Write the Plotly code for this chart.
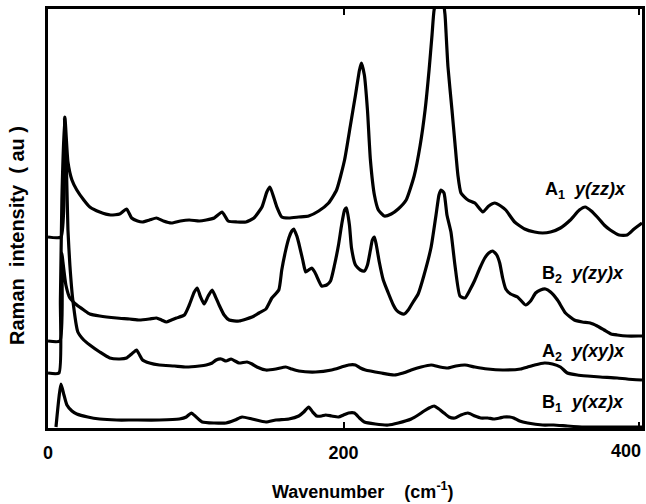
import plotly.graph_objects as go

# Polarised Raman spectra, wavenumber (cm-1) vs intensity (au), vertically offset
A1_yzzx = [(0, 191), (8.8, 191), (11.4, 311), (13.5, 266), (16.2, 248), (19.5, 238), (24.2, 228),
           (28.3, 221), (35, 216), (42.4, 213), (48.5, 214), (53.2, 219), (56.6, 210), (60.6, 207),
           (64, 206), (68.7, 208), (73.4, 210), (78.1, 207), (83.5, 205), (89.6, 207), (95.6, 208),
           (102.4, 207), (107.1, 208), (112.5, 210), (117.8, 216), (121.9, 207), (127.9, 206),
           (134, 206), (139.4, 210), (144.8, 221), (148.1, 236), (150.2, 241), (152.9, 230),
           (154.9, 221), (158.2, 211), (163, 210), (169.7, 211), (176.4, 212), (183.2, 217),
           (189.9, 225), (195.3, 238), (200.7, 268), (204.7, 303), (208.1, 333), (210.8, 358),
           (212.1, 365), (214.1, 353), (216.2, 318), (218.2, 268), (220.9, 233), (223.6, 218),
           (227.6, 212), (232.3, 214), (237, 219), (242.4, 228), (247.8, 252), (251.9, 283),
           (255.2, 318), (257.9, 358), (259.9, 393), (261.3, 418), (264, 432), (266.7, 432),
           (268.7, 413), (269.4, 395), (270.7, 361), (273.4, 318), (275.4, 285), (277.4, 253),
           (279.5, 235), (284.2, 228), (288.9, 225), (294.3, 216), (298.3, 222), (302.4, 225),
           (306.4, 222), (309.8, 218), (315.8, 206), (322.6, 199), (329.3, 196), (334.7, 195),
           (340.1, 196), (346.8, 200), (353.5, 208), (359.6, 218), (363.6, 221), (367.7, 217),
           (371.7, 211), (376.4, 203), (380.5, 198), (386.5, 193), (391.9, 193), (396.6, 199),
           (399.3, 202), (402, 205)]

B2_yzyx = [(0, 87), (8.1, 87), (9.4, 175), (10.1, 166), (12.1, 143), (14.8, 130), (19.5, 123),
           (24.2, 118), (28.3, 114), (35, 112), (46.5, 110), (55.2, 109), (62, 108), (68.7, 109),
           (73.4, 110), (76.8, 108), (80.1, 106), (83.5, 108), (86.9, 110), (92.3, 113), (95.6, 123),
           (99, 136), (101, 140), (103, 132), (105.7, 124), (108.4, 132), (111.1, 138), (113.1, 132),
           (115.8, 123), (119.2, 113), (122.6, 108), (129.3, 107), (138.1, 111), (142.8, 115),
           (147.5, 119), (151.5, 130), (156.2, 138), (158.2, 158), (160.9, 178), (163, 190),
           (165, 197), (166.3, 199), (168.4, 192), (169.7, 185), (172.4, 168), (174.4, 156),
           (176.4, 158), (178.5, 160), (180.5, 156), (181.8, 152), (185.2, 142), (188.6, 143),
           (191.2, 147), (193.9, 163), (196.6, 183), (198.7, 203), (200.7, 218), (202, 220),
           (204, 203), (205.4, 180), (208.1, 163), (211.4, 158), (214.1, 157), (216.2, 163),
           (218.2, 178), (219.5, 188), (220.9, 191), (222.2, 183), (224.2, 166), (226.9, 148),
           (230.3, 135), (233.7, 123), (235.7, 118), (238.4, 115), (241.1, 114), (243.8, 118),
           (247.1, 126), (250.5, 134), (254.5, 153), (259.3, 181), (262.6, 213), (264.6, 233),
           (266, 238), (268, 235), (270, 213), (272.7, 196), (275.4, 163), (278.8, 132),
           (282.2, 130), (285.5, 138), (288.9, 148), (292.3, 160), (295.6, 170), (298.3, 175),
           (301, 177), (303.7, 173), (305.7, 165), (307.7, 150), (309.8, 139), (313.1, 134),
           (317.8, 131), (323.2, 123), (326.6, 127), (330, 135), (333.3, 138), (336.7, 139),
           (340.1, 136), (344.8, 128), (350.2, 115), (356.2, 108), (361.6, 106), (367, 105),
           (371.7, 102), (376.4, 98), (381.1, 94), (385.2, 93), (391.9, 92), (400.7, 92), (402, 92)]

A2_yxyx = [(0, 55), (7.4, 55), (8.4, 128), (9.4, 228), (11.1, 310), (12.5, 258), (13.5, 198),
           (14.8, 163), (16.8, 128), (20.2, 96), (24.2, 88), (28.3, 83), (35, 76), (41.8, 70),
           (48.5, 69), (53.2, 70), (56.6, 74), (59.9, 78), (62, 73), (64, 68), (68.7, 65),
           (75.4, 63), (85.5, 62), (93.6, 61), (102.4, 62), (107.1, 63), (111.1, 65), (113.8, 68),
           (117.2, 69), (120.5, 67), (123.9, 69), (126.6, 67), (129.3, 65), (134.7, 66),
           (138.1, 64), (141.4, 61), (147.5, 58), (154.2, 59), (160.9, 61), (165, 59), (169.7, 57),
           (181.1, 56), (191.9, 58), (198.7, 61), (203.4, 63), (208.1, 63), (211.4, 60),
           (214.8, 58), (225.6, 55), (234.3, 53), (240.4, 55), (245.8, 58), (252.5, 61),
           (259.3, 63), (265.3, 61), (270.7, 60), (276.1, 62), (282.2, 63), (288.9, 61),
           (297.6, 59), (307.7, 58), (319.9, 59), (324.6, 61), (329.3, 63), (336, 65), (341.4, 64),
           (346.8, 61), (351.5, 55), (358.2, 53), (365, 52), (373.7, 51), (385.2, 50), (391.9, 49),
           (402, 48)]

B1_yxzx = [(5.4, 1), (8.8, 44), (10.8, 33), (12.8, 23), (16.2, 17), (19.5, 14), (26.9, 11),
           (35, 9), (46.5, 8), (57.2, 8), (75.4, 8), (88.9, 9), (93.6, 11), (97, 15), (100.3, 11),
           (104.4, 6), (112.5, 5), (120.5, 5), (126.6, 8), (131.3, 11), (138.1, 9), (147.5, 6),
           (154.2, 8), (163, 9), (169.7, 12), (173.1, 16), (176.4, 21), (179.1, 16), (181.8, 12),
           (185.2, 12), (187.9, 13), (191.9, 12), (196.6, 11), (200, 13), (203.4, 15), (207.4, 15),
           (210.8, 10), (214.1, 6), (221.5, 4), (230.3, 3), (237, 5), (245.8, 9), (250.5, 13),
           (254.5, 17), (257.9, 20), (261.3, 22), (264.6, 19), (268, 15), (271.4, 11), (275.4, 10),
           (279.5, 13), (284.2, 15), (288.9, 12), (292.9, 10), (297.6, 10), (301.7, 9),
           (305.7, 10), (308.4, 11), (312.5, 11), (315.2, 10), (319.2, 7), (324.6, 5), (334.7, 3),
           (342.1, 3), (351.5, 2), (363, 1), (371.7, 1), (385.2, 1), (402, 1)]

spectra = [A1_yzzx, B2_yzyx, A2_yxyx, B1_yxzx]

# label text and its anchor (wavenumber, intensity)
label_text = ["A<sub>1</sub>\u00a0 <i>y(zz)x</i>",
              "B<sub>2</sub>\u00a0 <i>y(zy)x</i>",
              "A<sub>2</sub>\u00a0 <i>y(xy)x</i>",
              "B<sub>1</sub>\u00a0 <i>y(xz)x</i>"]
label_pos = [(335, 238), (333, 154), (333, 76), (333, 25)]

x_ticks = [0, 200, 400]
x_range = [0, 402]
y_range = [0, 419]

tick_font = dict(family="Liberation Sans", size=18, color="black", weight="bold")

fig = go.Figure()
for s in spectra:
    fig.add_trace(go.Scatter(
        x=[p[0] for p in s], y=[p[1] for p in s], mode="lines",
        line=dict(color="black", width=3.2, shape="spline", smoothing=0.5),
        showlegend=False, hoverinfo="skip"))

for txt, (lx, ly) in zip(label_text, label_pos):
    fig.add_annotation(x=lx, y=ly, xref="x", yref="y", text=txt, showarrow=False,
                       xanchor="left", yanchor="middle",
                       font=dict(family="Liberation Sans", size=18, color="black", weight="bold"))

fig.add_annotation(text="Raman\u00a0 intensity\u00a0 (\u00a0au\u00a0)", xref="paper", yref="paper",
                   x=-0.051, y=0.46, textangle=-90, showarrow=False,
                   xanchor="center", yanchor="middle",
                   font=dict(family="Liberation Sans", size=20, color="black", weight="bold"))
fig.add_annotation(text="Wavenumber\u00a0\u00a0\u00a0\u00a0(cm<sup>-1</sup>)", xref="paper", yref="paper",
                   x=0.53, y=-0.148, showarrow=False, xanchor="center", yanchor="middle",
                   font=dict(family="Liberation Sans", size=18, color="black", weight="bold"))
# last tick label sits against the right edge, so it is pulled inside the frame
fig.add_annotation(text=str(x_ticks[-1]), x=x_ticks[-1] - 9, xref="x", yref="paper", y=-0.055,
                   showarrow=False, xanchor="center", yanchor="middle", font=tick_font)

fig.update_xaxes(range=x_range, tickvals=x_ticks,
                 ticktext=[str(t) for t in x_ticks[:-1]] + [""],
                 ticks="inside", ticklen=6, tickwidth=2, tickcolor="black",
                 showline=True, linewidth=3, linecolor="black", mirror="allticks",
                 showgrid=False, zeroline=False, ticklabelstandoff=6, tickfont=tick_font)
fig.update_yaxes(range=y_range, showticklabels=False, ticks="",
                 showline=True, linewidth=3, linecolor="black", mirror=True,
                 showgrid=False, zeroline=False)

fig.update_layout(width=646, height=504, margin=dict(l=48, r=1, t=9, b=76),
                  plot_bgcolor="white", paper_bgcolor="white")

fig.write_html("out.html")
